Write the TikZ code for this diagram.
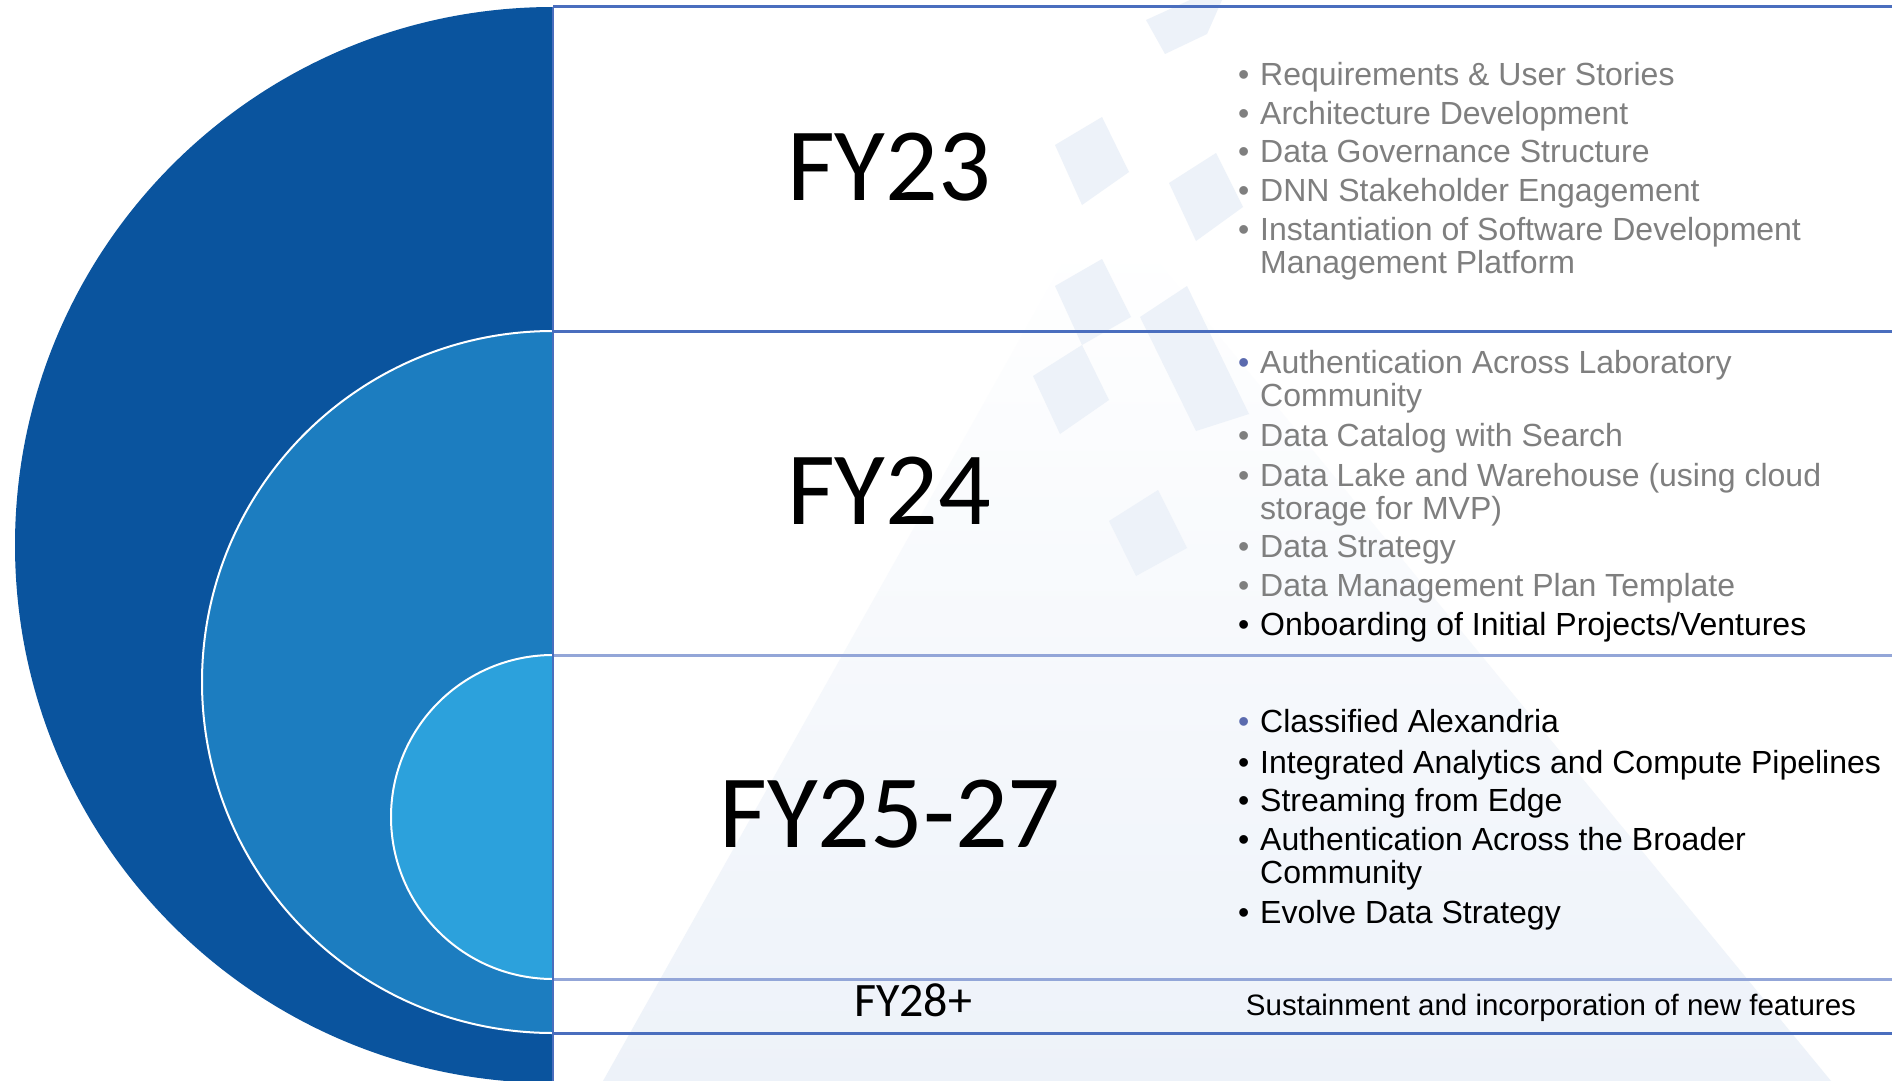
\documentclass[tikz,border=0pt]{standalone}
\usepackage{fontspec}
\setmainfont{Liberation Sans}
\newfontfamily\calfont{Carlito}
\definecolor{darkblue}{HTML}{0A549E}
\definecolor{midblue}{HTML}{1C7DC0}
\definecolor{lightblue}{HTML}{2CA1DC}
\definecolor{rulecol}{HTML}{4A6EBE}
\definecolor{rulelt}{HTML}{93A6D8}
\definecolor{txtgray}{HTML}{7F7F7F}
\definecolor{bulblue}{HTML}{5A6AAE}
\definecolor{wm}{HTML}{EDF2F9}
\newcommand\bul[1]{\llap{\textcolor{#1}{•}\hspace{11pt}}}
\newcommand\twolines[2]{\vtop{\hbox{#1}\hbox{#2}}}
\begin{document}
\begin{tikzpicture}[x=1pt,y=-1pt,
  yearbig/.style={font=\calfont\fontsize{104}{110}\selectfont, anchor=base, inner sep=0},
  yearsmall/.style={font=\calfont\fontsize{48}{52}\selectfont, anchor=base, inner sep=0},
  itemtxt/.style={font=\fontsize{32}{33}\selectfont, anchor=base west, inner sep=0},
  grayitem/.style={itemtxt, text=txtgray},
  blackitem/.style={itemtxt, text=black},
  rowline/.style={line width=3pt, draw=rulecol},
  rowlinelt/.style={line width=3pt, draw=rulelt},
  wmshape/.style={fill=wm}
]
\useasboundingbox (0,0) rectangle (1892,1081);
\fill[white] (0,0) rectangle (1892,1081);

% watermark
\shade[top color=white, bottom color=wm] (603,1081) -- (1070,250) -- (1140,240) -- (1831,1081) -- cycle;
\fill[wmshape] (1146,20) -- (1190,0) -- (1222,0) -- (1207,34) -- (1165,54) -- cycle;
\fill[wmshape] (1055,145) -- (1102,117) -- (1129,172) -- (1082,205) -- cycle;
\fill[wmshape] (1169,183) -- (1216,153) -- (1243,207) -- (1196,241) -- cycle;
\fill[wmshape] (1055,286) -- (1102,259) -- (1131,317) -- (1082,345) -- cycle;
\fill[wmshape] (1033,376) -- (1082,345) -- (1109,400) -- (1060,434) -- cycle;
\fill[wmshape] (1140,317) -- (1187,286) -- (1249,414) -- (1196,431) -- cycle;
\fill[wmshape] (1109,521) -- (1158,490) -- (1187,548) -- (1136,576) -- cycle;

% row lines
\coordinate (l0a) at (553,7);    \coordinate (l0b) at (1892,7);
\coordinate (l1a) at (553,331);  \coordinate (l1b) at (1892,331);
\coordinate (l2a) at (553,655);  \coordinate (l2b) at (1892,655);
\coordinate (l3a) at (553,979);  \coordinate (l3b) at (1892,979);
\coordinate (l4a) at (553,1033); \coordinate (l4b) at (1892,1033);
\draw[rowline] (l0a) -- (l0b);
\draw[rowline] (l1a) -- (l1b);
\draw[rowlinelt] (l2a) -- (l2b);
\draw[rowlinelt] (l3a) -- (l3b);
\draw[rowline] (l4a) -- (l4b);

% half circles
\begin{scope}
\clip (0,0) rectangle (553,1081);
\fill[darkblue] (553,545) circle[radius=538];
\filldraw[fill=midblue, draw=white, line width=2pt] (553,682) circle[radius=351];
\filldraw[fill=lightblue, draw=white, line width=2pt] (553,817) circle[radius=162];
\end{scope}
\coordinate (vtop) at (553,7);
\coordinate (vbot) at (553,1081);
\draw[rulecol, line width=2pt] (vtop) -- (vbot);

% year labels
\node[yearbig] (fy23) at (889,200) {FY23};
\node[yearbig] (fy24) at (889,524) {FY24};
\node[yearbig] (fy25) at (890,847) {FY25-27};
\node[yearsmall] (fy28) at (913,1016) {FY28+};

% FY23 items
\node[grayitem] (a1) at (1260,85) {\bul{txtgray}Requirements \& User Stories};
\node[grayitem] (a2) at (1260,124) {\bul{txtgray}Architecture Development};
\node[grayitem] (a3) at (1260,162.5) {\bul{txtgray}Data Governance Structure};
\node[grayitem] (a4) at (1260,201.5) {\bul{txtgray}DNN Stakeholder Engagement};
\node[grayitem] (a5) at (1260,240.5) {\twolines{\bul{txtgray}Instantiation of Software Development}{Management Platform}};

% FY24 items
\node[grayitem] (b1) at (1260,373) {\twolines{\bul{bulblue}Authentication Across Laboratory}{Community}};
\node[grayitem] (b2) at (1260,446.5) {\bul{txtgray}Data Catalog with Search};
\node[grayitem] (b3) at (1260,486) {\twolines{\bul{txtgray}Data Lake and Warehouse (using cloud}{storage for MVP)}};
\node[grayitem] (b4) at (1260,557) {\bul{txtgray}Data Strategy};
\node[grayitem] (b5) at (1260,596.5) {\bul{txtgray}Data Management Plan Template};
\node[blackitem] (b6) at (1260,635) {\bul{black}Onboarding of Initial Projects/Ventures};

% FY25-27 items
\node[blackitem] (c1) at (1260,732) {\bul{bulblue}Classified Alexandria};
\node[blackitem] (c2) at (1260,773.5) {\bul{black}Integrated Analytics and Compute Pipelines};
\node[blackitem] (c3) at (1260,811.5) {\bul{black}Streaming from Edge};
\node[blackitem] (c4) at (1260,850.5) {\twolines{\bul{black}Authentication Across the Broader}{Community}};
\node[blackitem] (c5) at (1260,923) {\bul{black}Evolve Data Strategy};

% FY28+
\node[font=\fontsize{29.5}{30}\selectfont, anchor=base, inner sep=0] (sus) at (1551,1015.5) {Sustainment and incorporation of new features};
\end{tikzpicture}
\end{document}
